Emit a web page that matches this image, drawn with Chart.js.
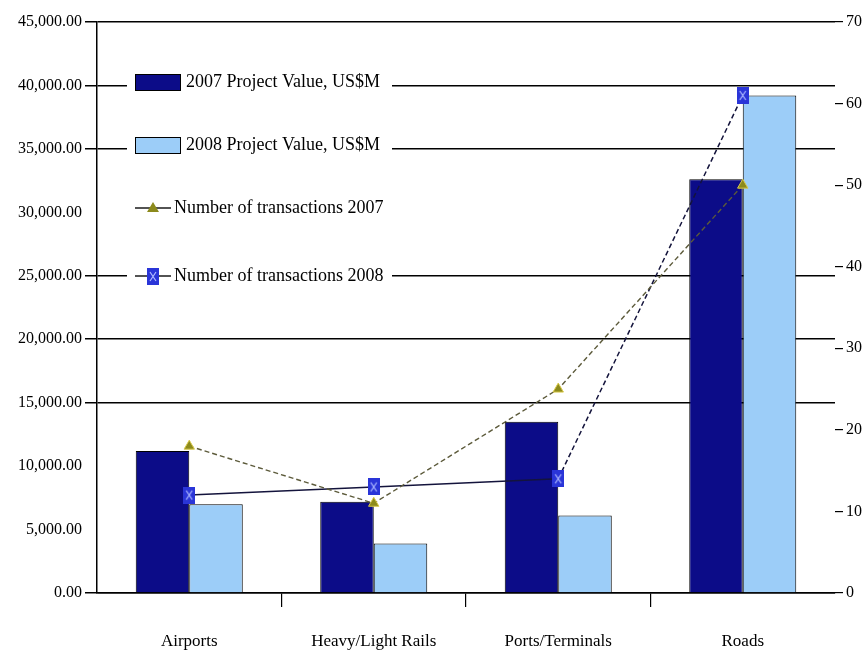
<!DOCTYPE html>
<html>
<head>
<meta charset="utf-8">
<script src="https://cdn.jsdelivr.net/npm/chart.js@4.4.1/dist/chart.umd.min.js"></script>
<style>
  html, body { margin: 0; padding: 0; background: #fff; }
  #wrap { width: 865px; height: 660px; }
</style>
</head>
<body>
<div id="wrap"><canvas id="myChart" width="865" height="660"></canvas></div>
<script>
const categories = ["Airports", "Heavy/Light Rails", "Ports/Terminals", "Roads"];
const value2007 = [11200, 7200, 13500, 32600];
const value2008 = [7000, 3900, 6100, 39200];
const deals2007 = [18, 11, 25, 50];
const deals2008 = [12, 13, 14, 61];
const seriesLabels = [
  "2007 Project Value, US$M",
  "2008 Project Value, US$M",
  "Number of transactions 2007",
  "Number of transactions 2008",
];
// left axis levels whose grid line is missing in the original
const hiddenGrid = [5000, 10000, 30000];

const serif = "'Liberation Serif', 'DejaVu Serif', serif";

// blue box with a light X, used as the 2008 marker
const xMark = document.createElement("canvas");
xMark.width = 12;
xMark.height = 17;
const m = xMark.getContext("2d");
m.fillStyle = "#2a35d8";
m.fillRect(0, 0, 12, 17);
m.strokeStyle = "#b0bcff";
m.lineWidth = 1.2;
m.beginPath();
m.moveTo(3, 4); m.lineTo(9, 13);
m.moveTo(9, 4); m.lineTo(3, 13);
m.stroke();

const legendBox = {
  id: "legendBox",
  afterDraw(chart) {
    const c = chart.ctx;
    const rows = [82, 145, 208, 276];
    c.save();
    c.fillStyle = "#fff";
    c.fillRect(127, 40, 265, 275);
    c.font = "18px " + serif;
    c.textBaseline = "middle";
    c.fillStyle = "#000";
    chart.data.datasets.forEach((ds, i) => {
      const y = rows[i];
      if (ds.type === "line") {
        c.strokeStyle = "#1a1a1a";
        c.lineWidth = 1.3;
        c.beginPath();
        c.moveTo(135, y);
        c.lineTo(171, y);
        c.stroke();
        if (ds.pointStyle === "triangle") {
          c.fillStyle = ds.pointBackgroundColor;
          c.beginPath();
          c.moveTo(153, y - 6);
          c.lineTo(159, y + 4);
          c.lineTo(147, y + 4);
          c.closePath();
          c.fill();
        } else {
          c.drawImage(xMark, 147, y - 8);
        }
        c.fillStyle = "#000";
        c.fillText(ds.label, 174, y);
      } else {
        c.fillStyle = ds.backgroundColor;
        c.fillRect(135, y - 8, 45, 16);
        c.strokeStyle = "#000";
        c.lineWidth = 1;
        c.strokeRect(135.5, y - 7.5, 45, 16);
        c.fillStyle = "#000";
        c.fillText(ds.label, 186, y);
      }
    });
    c.restore();
  },
};

const ctx = document.getElementById("myChart");

new Chart(ctx, {
  type: "bar",
  data: {
    labels: categories,
    datasets: [
      {
        label: seriesLabels[0],
        data: value2007,
        backgroundColor: "#0c0c88",
        borderColor: "#000",
        borderWidth: 1,
        yAxisID: "y",
        order: 2,
      },
      {
        label: seriesLabels[1],
        data: value2008,
        backgroundColor: "#9ccdf8",
        borderColor: "#000",
        borderWidth: 1,
        yAxisID: "y",
        order: 2,
      },
      {
        type: "line",
        label: seriesLabels[2],
        data: deals2007,
        yAxisID: "y1",
        borderColor: "#5c5a3a",
        borderWidth: 1.4,
        borderDash: [5, 3],
        pointStyle: "triangle",
        pointRadius: 6,
        pointBackgroundColor: "#8c8a1c",
        pointBorderColor: "#d8c84a",
        pointBorderWidth: 1,
        order: 1,
      },
      {
        type: "line",
        label: seriesLabels[3],
        data: deals2008,
        yAxisID: "y1",
        borderColor: "#14143c",
        borderWidth: 1.5,
        segment: {
          borderDash: (s) => (s.p1DataIndex === 3 ? [5, 3] : []),
        },
        pointStyle: xMark,
        order: 1,
      },
    ],
  },
  options: {
    responsive: false,
    animation: false,
    layout: { padding: { top: 22, left: 0, right: 0, bottom: 0 } },
    datasets: {
      bar: { categoryPercentage: 0.58, barPercentage: 1 },
    },
    plugins: {
      legend: { display: false },
      tooltip: { enabled: false },
    },
    scales: {
      x: {
        grid: {
          offset: true,
          drawOnChartArea: false,
          tickLength: 14,
          color: (c) => (c.type !== "tick" || c.index === 0 ? "rgba(0,0,0,0)" : "#000"),
          lineWidth: 1.2,
        },
        border: { color: "#000", width: 1.5 },
        ticks: { padding: 24, color: "#000", font: { family: serif, size: 17 } },
        afterFit: (s) => { s.height = 67; },
      },
      y: {
        position: "left",
        min: 0,
        max: 45000,
        grid: {
          color: (c) => (hiddenGrid.includes(c.tick.value) ? "rgba(0,0,0,0)" : "#000"),
          lineWidth: 1.5,
          tickLength: 12,
        },
        border: { color: "#000", width: 1.5 },
        ticks: {
          stepSize: 5000,
          padding: 3,
          color: "#000",
          font: { family: serif, size: 16 },
          callback: (v) => v.toLocaleString("en-US", { minimumFractionDigits: 2, maximumFractionDigits: 2 }),
        },
        afterFit: (s) => { s.width = 97; },
      },
      y1: {
        position: "right",
        min: 0,
        max: 70,
        grid: { drawOnChartArea: false, tickLength: 8, color: "#000", lineWidth: 1.2 },
        border: { display: false },
        ticks: { stepSize: 10, padding: 3, color: "#000", font: { family: serif, size: 16 } },
        afterFit: (s) => { s.width = 30; },
      },
    },
  },
  plugins: [legendBox],
});
</script>
</body>
</html>
